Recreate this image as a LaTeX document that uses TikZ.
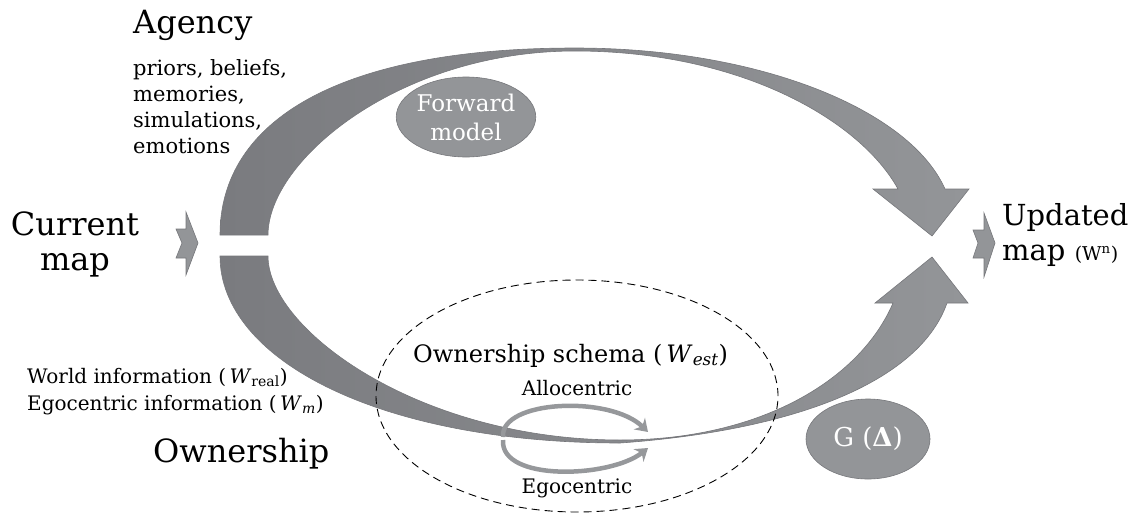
\documentclass[tikz,border=0pt]{standalone}
\usepackage{fontspec}
\setmainfont{DejaVu Serif}
\usepackage{tikz}
\usetikzlibrary{arrows.meta,shapes.geometric}

\definecolor{bandDark}{RGB}{122,123,127}
\definecolor{bandLight}{RGB}{147,149,152}
\definecolor{bandEdge}{RGB}{118,119,123}
\definecolor{ringFill}{RGB}{150,152,155}

\tikzset{
    band/.style={left color=bandDark, right color=bandLight, draw=bandEdge, line width=0.6pt},
    chevron/.style={fill=bandLight, draw=bandEdge, line width=0.6pt},
    ring/.style={draw=ringFill, line width=4.5pt},
    bubble/.style={ellipse, fill=bandLight, draw=bandEdge, line width=0.6pt, text=white,
        minimum width=124pt, minimum height=80pt, inner sep=0pt, align=center,
        font=\fontsize{23}{29}\selectfont},
    title/.style={font=\fontsize{32}{35}\selectfont, inner sep=0pt},
    note/.style={font=\fontsize{21}{26}\selectfont, inner sep=0pt, align=left},
    label/.style={font=\fontsize{20}{24}\selectfont, inner sep=0pt}
}

\begin{document}
\begin{tikzpicture}[x=1pt, y=-1pt, >=Stealth]

    %% Background
    \useasboundingbox (0,0) rectangle (1137,514);

    % Agency band
    \draw[band]
    (220,235) .. controls (220,120) and (340,48) .. (575,48)
    .. controls (760,48) and (910,110) .. (945,189)
    -- (969,189) -- (932,236) -- (873,189) -- (898,189)
    .. controls (860,120) and (740,51) .. (575,51)
    .. controls (400,51) and (268,160) .. (268,235) -- cycle
    ;

    % Ownership band
    \draw[band]
    (220,256) .. controls (220,360) and (380,443) .. (620,443)
    .. controls (800,430) and (920,380) .. (947,303)
    -- (968,303) -- (932,257) -- (875,303) -- (893,303)
    .. controls (860,380) and (760,440) .. (620,440)
    .. controls (420,440) and (268,330) .. (268,256) -- cycle
    ;

    % Small arrows in and out
    \draw[chevron] (176,229) -- (186,229) -- (186,212) -- (198,243) -- (186,275)
    -- (186,258) -- (176,258) -- (182,243) -- cycle;
    \draw[chevron] (973,230) -- (984,230) -- (984,213) -- (995,243) -- (984,277)
    -- (984,258) -- (973,258) -- (978,243) -- cycle;

    % Ownership schema
    \node[ellipse, draw, dashed, dash pattern=on 8pt off 5pt, line width=0.9pt,
        minimum width=402pt, minimum height=232pt] (schema) at (577,396) {};

    % Allocentric / egocentric loop
    \draw[ring, -{Stealth[length=12pt, width=16pt]}]
    (503,437) .. controls (500,400) and (610,395) .. (648,432);
    \draw[ring, -{Stealth[length=12pt, width=16pt]}]
    (503,440) .. controls (500,482) and (610,478) .. (648,448);

    % Bubbles
    \node[bubble] (fwd) at (466,117) {Forward\\model};
    \node[bubble, font=\fontsize{26}{29}\selectfont] (gdelta) at (868,439) {G (\textbf{Δ})};

    % Labels
    \node[title, anchor=base west] (agency) at (133,33) {Agency};
    \node[note, anchor=base west] (priors) at (133,153)
        {priors, beliefs,\\memories,\\simulations,\\emotions};
    \node[title, anchor=base, align=center] (current) at (75,270) {Current\\map};
    \node[title, font=\fontsize{29}{35}\selectfont, anchor=base west, align=left] (updated) at (1002,260)
        {Updated\\map {\fontsize{19}{22}\selectfont (W\textsuperscript{n})}};
    \node[note, font=\fontsize{20}{27}\selectfont, anchor=base west] (world) at (27,410)
        {World information (\,\textit{W}\textsubscript{real})\\Egocentric information (\,\textit{W}\textsubscript{\textit{m}})};
    \node[title, anchor=base west] (owner) at (153,462) {Ownership};
    \node[font=\fontsize{24}{26}\selectfont, inner sep=0pt, anchor=base west] (schemaname) at (413,362)
        {Ownership schema (\,\textit{W}\textsubscript{\textit{est}})};
    \node[label, anchor=base] (allo) at (577,395) {Allocentric};
    \node[label, anchor=base] (ego) at (577,493) {Egocentric};

\end{tikzpicture}
\end{document}
